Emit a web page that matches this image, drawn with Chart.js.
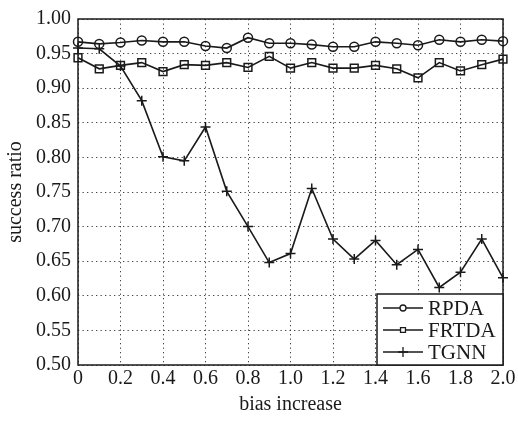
<!DOCTYPE html>
<html><head><meta charset="utf-8">
<script src="https://cdn.jsdelivr.net/npm/chart.js"></script>
<style>html,body{margin:0;padding:0;background:#fff}#wrap{width:518px;height:421px}</style>
</head><body><div id="wrap"><canvas id="c" width="518" height="421"></canvas></div>
<script>
const biasIncrease = [0,0.1,0.2,0.3,0.4,0.5,0.6,0.7,0.8,0.9,1.0,1.1,1.2,1.3,1.4,1.5,1.6,1.7,1.8,1.9,2.0];
const rpda  = [0.967,0.964,0.966,0.969,0.967,0.967,0.961,0.958,0.973,0.965,0.965,0.963,0.960,0.960,0.967,0.965,0.962,0.970,0.967,0.970,0.968];
const frtda = [0.944,0.928,0.933,0.937,0.924,0.934,0.933,0.937,0.930,0.946,0.929,0.937,0.929,0.929,0.933,0.928,0.915,0.937,0.925,0.934,0.942];
const tgnn  = [0.958,0.957,0.932,0.882,0.801,0.795,0.844,0.751,0.700,0.648,0.661,0.755,0.682,0.653,0.680,0.645,0.667,0.612,0.634,0.682,0.626];
const seriesNames = ['RPDA','FRTDA','TGNN'];
const yTicks = {min:0.5, max:1.0, step:0.05};
const xTicks = {min:0, max:2.0, step:0.2};

const FONT = "'Liberation Serif', 'Times New Roman', serif";
const INK = '#1a1a1a';
const styles = [
  {pointStyle:'circle', radius:4.5},
  {pointStyle:'rect', radius:5.5},
  {pointStyle:'cross', radius:5}
];
const pts = arr => arr.map((v,i)=>({x:biasIncrease[i], y:v}));
const datasets = [rpda, frtda, tgnn].map((arr,i)=>({
  label: seriesNames[i], data: pts(arr),
  borderColor: INK, backgroundColor: 'rgba(0,0,0,0)', borderWidth: 1.6,
  pointStyle: styles[i].pointStyle, pointRadius: styles[i].radius,
  pointBorderColor: INK, pointBackgroundColor: 'rgba(0,0,0,0)', pointBorderWidth: 1.5,
  tension: 0, clip: false
}));

const legendPlugin = {
  id: 'boxLegend',
  afterDraw(chart) {
    const ctx = chart.ctx, a = chart.chartArea;
    const x0 = 377, y0 = 294, x1 = a.right, y1 = a.bottom;
    ctx.save();
    ctx.fillStyle = '#fff';
    ctx.fillRect(x0, y0, x1 - x0, y1 - y0);
    ctx.strokeStyle = INK; ctx.lineWidth = 1.5;
    ctx.strokeRect(x0, y0, x1 - x0, y1 - y0);
    const rows = [308, 330, 352];
    const lr = [3, 3.5, 5];
    seriesNames.forEach((n, i) => {
      const y = rows[i];
      ctx.strokeStyle = INK; ctx.lineWidth = 1.6;
      ctx.beginPath(); ctx.moveTo(383, y); ctx.lineTo(423, y); ctx.stroke();
      ctx.fillStyle = '#fff'; ctx.lineWidth = 1.3;
      Chart.helpers.drawPoint(ctx, {pointStyle: styles[i].pointStyle, radius: lr[i], borderWidth: 1.3}, 403, y);
      ctx.fillStyle = INK; ctx.font = '21px ' + FONT;
      ctx.textBaseline = 'middle'; ctx.textAlign = 'left';
      ctx.fillText(n, 428, y + 1);
    });
    ctx.restore();
  }
};
const framePlugin = {
  id: 'frame',
  afterDatasetsDraw(chart) {
    const ctx = chart.ctx, a = chart.chartArea;
    ctx.save();
    ctx.strokeStyle = INK; ctx.lineWidth = 1.5;
    ctx.strokeRect(a.left, a.top, a.right - a.left, a.bottom - a.top);
    ctx.restore();
  }
};

new Chart(document.getElementById('c'), {
  type: 'line',
  data: { datasets },
  options: {
    responsive: false, animation: false, devicePixelRatio: 1,
    layout: { padding: { top: 15, right: 15, left: 0, bottom: 0 } },
    plugins: { legend: { display: false }, tooltip: { enabled: false } },
    scales: {
      x: {
        type: 'linear', min: xTicks.min, max: xTicks.max,
        ticks: { stepSize: xTicks.step, color: INK, font: { family: FONT, size: 20 }, padding: 2, maxRotation: 0,
          callback: v => (v === 0 ? '0' : Number(v).toFixed(1)) },
        grid: { color: '#444', lineWidth: 1, drawTicks: false },
        border: { display: false, dash: [1.3, 3.2] },
        title: { display: true, text: 'bias increase', color: INK, font: { family: FONT, size: 20 }, padding: { top: 5 } },
        afterFit(s) { s.height = 56; }
      },
      y: {
        min: yTicks.min, max: yTicks.max,
        ticks: { stepSize: yTicks.step, color: INK, font: { family: FONT, size: 20 }, padding: 7,
          callback: v => Number(v).toFixed(2) },
        grid: { color: '#444', lineWidth: 1, drawTicks: false },
        border: { display: false, dash: [1.3, 3.2] },
        title: { display: true, text: 'success ratio', color: INK, font: { family: FONT, size: 20 }, padding: { bottom: 0 } },
        afterFit(s) { s.width = 78; }
      }
    }
  },
  plugins: [framePlugin, legendPlugin]
});
</script></body></html>
